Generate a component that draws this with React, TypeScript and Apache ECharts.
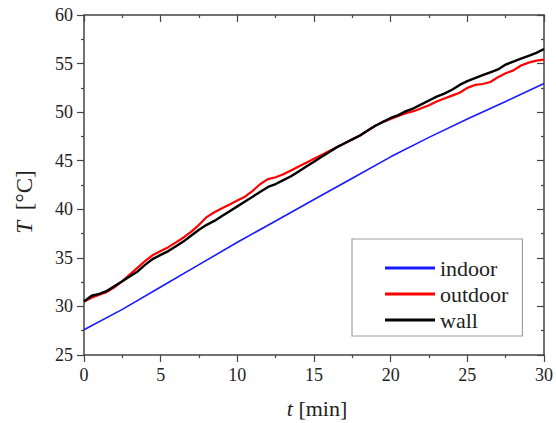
import React, { useEffect, useRef } from "react";
import * as echarts from "echarts";

// Time axis (min) for the indoor trace
const INDOOR_TIME = [0, 2.5, 5, 7.5, 10, 12.5, 15, 17.5, 20, 22.5, 25, 27.5, 30];
const INDOOR = [27.6, 29.7, 32.0, 34.3, 36.6, 38.8, 41.0, 43.2, 45.4, 47.4, 49.3, 51.1, 52.95];

// Time axis (min) for the outdoor and wall traces
const FINE_TIME = [
  0, 0.5, 1, 1.5, 2, 2.5, 3, 3.5, 4, 4.5, 5, 5.5, 6, 6.5, 7, 7.5, 8, 8.5, 9, 9.5,
  10, 10.5, 11, 11.5, 12, 12.5, 13, 13.5, 14, 14.5, 15, 15.5, 16, 16.5, 17, 17.5,
  18, 18.5, 19, 19.5, 20, 20.5, 21, 21.5, 22, 22.5, 23, 23.5, 24, 24.5, 25, 25.5,
  26, 26.5, 27, 27.5, 28, 28.5, 29, 29.5, 30,
];
const OUTDOOR = [
  30.5, 30.9, 31.2, 31.5, 32.0, 32.6, 33.3, 34.0, 34.7, 35.3, 35.7, 36.1, 36.6, 37.1,
  37.7, 38.4, 39.2, 39.7, 40.1, 40.5, 40.9, 41.3, 41.9, 42.6, 43.1, 43.3, 43.6, 44.0,
  44.4, 44.8, 45.2, 45.6, 46.0, 46.4, 46.8, 47.2, 47.6, 48.1, 48.6, 49.0, 49.3, 49.6,
  49.9, 50.1, 50.4, 50.7, 51.1, 51.4, 51.7, 52.0, 52.5, 52.8, 52.9, 53.1, 53.6, 54.0,
  54.3, 54.8, 55.1, 55.3, 55.4,
];
const WALL = [
  30.5, 31.1, 31.3, 31.6, 32.1, 32.6, 33.1, 33.6, 34.3, 34.9, 35.3, 35.7, 36.2, 36.7,
  37.3, 37.9, 38.4, 38.8, 39.3, 39.8, 40.3, 40.8, 41.3, 41.8, 42.3, 42.6, 43.0, 43.4,
  43.9, 44.4, 44.9, 45.4, 45.9, 46.4, 46.8, 47.2, 47.6, 48.1, 48.6, 49.0, 49.4, 49.7,
  50.1, 50.4, 50.8, 51.2, 51.6, 51.9, 52.3, 52.8, 53.2, 53.5, 53.8, 54.1, 54.4, 54.9,
  55.2, 55.5, 55.8, 56.1, 56.5,
];

const SERIES_NAMES = ["indoor", "outdoor", "wall"];
const X_TITLE = "t";
const X_UNIT = " [min]";
const Y_TITLE = "T";
const Y_UNIT = " [°C]";

const FONT = "Liberation Serif";
const AXIS_COLOR = "#444";

const pairs = (xs: number[], ys: number[]) => xs.map((x, i) => [x, ys[i]]);

export default function App() {
  const ref = useRef<HTMLDivElement>(null);

  useEffect(() => {
    if (!ref.current) return;
    document.body.style.margin = "0";
    const chart = echarts.init(ref.current, undefined, { renderer: "svg" });

    const axisLineStyle = { color: AXIS_COLOR, width: 1.5 };
    const minorTick = {
      show: true,
      splitNumber: 2,
      length: 3,
      lineStyle: { color: AXIS_COLOR, width: 1.2 },
    };
    const baseX = {
      type: "value" as const,
      min: 0,
      max: 30,
      interval: 5,
      splitLine: { show: false },
      axisLine: { show: true, onZero: false, lineStyle: axisLineStyle },
      minorTick,
    };
    const baseY = {
      type: "value" as const,
      min: 25,
      max: 60,
      interval: 5,
      splitLine: { show: false },
      axisLine: { show: true, onZero: false, lineStyle: axisLineStyle },
      minorTick,
    };
    const tickStyle = { color: AXIS_COLOR, width: 1.2 };
    const labelStyle = { fontFamily: FONT, fontSize: 18, color: "#222" };
    const xTitleRich = {
      i: { fontFamily: FONT, fontSize: 22, fontStyle: "italic", fill: "#222" },
      n: { fontFamily: FONT, fontSize: 22, fill: "#222" },
    };
    const yTitleRich = {
      i: { fontFamily: FONT, fontSize: 23, fontStyle: "italic", fill: "#222", padding: [0, 5, 0, 0] },
      n: { fontFamily: FONT, fontSize: 23, fill: "#222" },
    };

    chart.setOption({
      animation: false,
      grid: { left: 84, right: 10, top: 15, bottom: 68 },
      xAxis: [
        {
          ...baseX,
          position: "bottom",
          axisTick: { show: true, inside: false, length: 7, lineStyle: tickStyle },
          axisLabel: { ...labelStyle, margin: 11 },
        },
        {
          ...baseX,
          position: "top",
          axisTick: { show: true, inside: true, length: 7, lineStyle: tickStyle },
          axisLabel: { show: false },
        },
      ],
      yAxis: [
        {
          ...baseY,
          position: "left",
          axisTick: { show: true, inside: false, length: 7, lineStyle: tickStyle },
          axisLabel: { ...labelStyle, margin: 11 },
        },
        {
          ...baseY,
          position: "right",
          axisTick: { show: true, inside: true, length: 7, lineStyle: tickStyle },
          axisLabel: { show: false },
        },
      ],
      legend: {
        orient: "vertical",
        left: 352,
        top: 239,
        padding: [18, 14, 5, 33],
        itemWidth: 50,
        itemHeight: 3,
        itemGap: 4,
        icon: "rect",
        borderColor: "#a0a0a0",
        borderWidth: 1.2,
        borderRadius: 0,
        data: SERIES_NAMES,
        textStyle: { fontFamily: FONT, fontSize: 22, lineHeight: 22, color: "#222" },
      },
      graphic: [
        {
          type: "text",
          x: 317,
          y: 408,
          style: {
            text: `{i|${X_TITLE}}{n|${X_UNIT}}`,
            align: "center",
            verticalAlign: "middle",
            rich: xTitleRich,
          },
        },
        {
          type: "text",
          x: 24,
          y: 202,
          rotation: Math.PI / 2,
          style: {
            text: `{i|${Y_TITLE}}{n|${Y_UNIT}}`,
            align: "center",
            verticalAlign: "middle",
            rich: yTitleRich,
          },
        },
      ],
      series: [
        {
          name: SERIES_NAMES[0],
          type: "line",
          showSymbol: false,
          color: "#1a1aff",
          lineStyle: { width: 1.6, color: "#1a1aff" },
          data: pairs(INDOOR_TIME, INDOOR),
        },
        {
          name: SERIES_NAMES[1],
          type: "line",
          showSymbol: false,
          color: "#ff0000",
          lineStyle: { width: 2.2, color: "#ff0000" },
          data: pairs(FINE_TIME, OUTDOOR),
        },
        {
          name: SERIES_NAMES[2],
          type: "line",
          showSymbol: false,
          color: "#000000",
          lineStyle: { width: 2.4, color: "#000000" },
          data: pairs(FINE_TIME, WALL),
        },
      ],
    });

    return () => chart.dispose();
  }, []);

  return <div ref={ref} style={{ width: 556, height: 423 }} />;
}
